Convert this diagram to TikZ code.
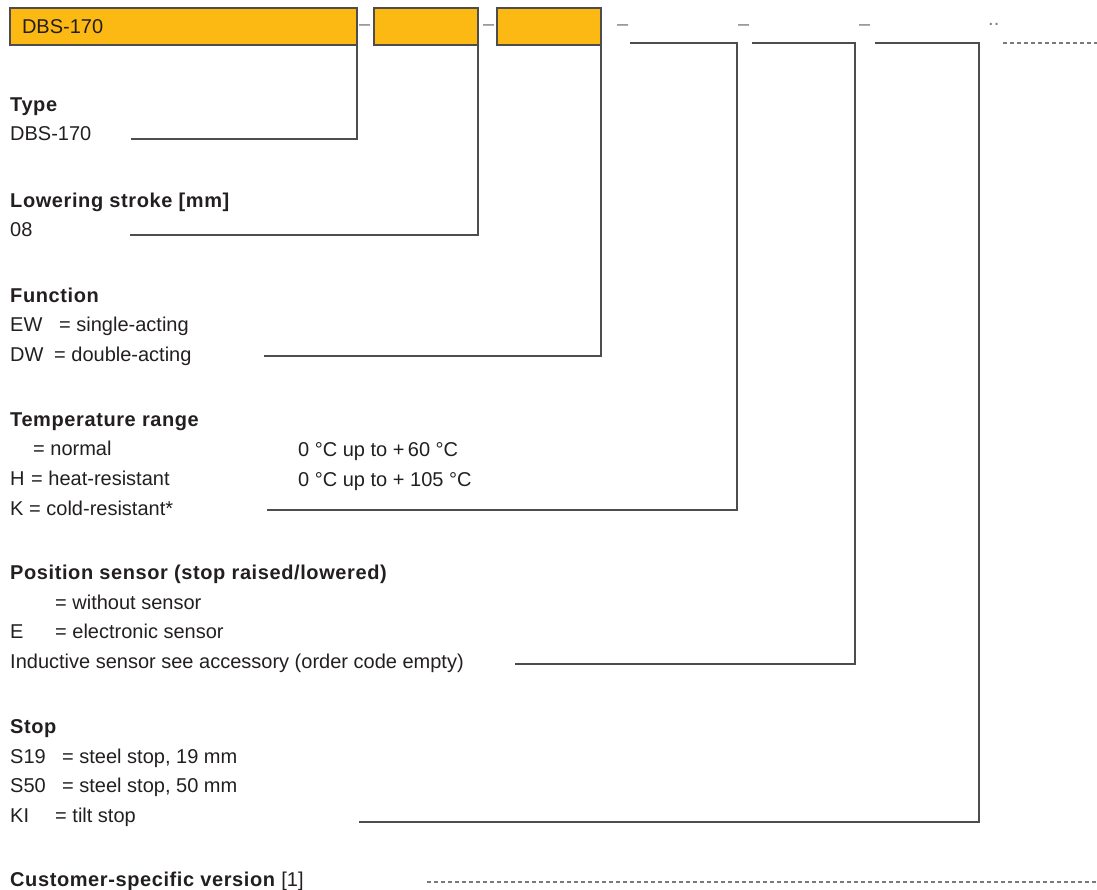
\documentclass[tikz,border=0pt]{standalone}
\usepackage{fontspec}
\setmainfont{Liberation Sans}[BoldFeatures={LetterSpace=3}]
\usetikzlibrary{positioning}
\definecolor{codeorange}{HTML}{FDB913}
\definecolor{linegray}{HTML}{4D4D4D}
\definecolor{dashgray}{HTML}{7A7A7A}
\definecolor{txtblack}{HTML}{231F20}
\begin{document}
\begin{tikzpicture}[x=1pt, y=-1pt,
    codebox/.style={draw=linegray, fill=codeorange, line width=1.2pt, minimum height=37pt,
        inner ysep=0pt, outer sep=0pt, anchor=north west, text=txtblack,
        font=\fontsize{20}{24}\selectfont},
    grouptext/.style={anchor=base west, inner sep=0pt, align=left, text=txtblack,
        font=\fontsize{20}{29.6}\selectfont},
    sepmark/.style={anchor=base west, inner sep=0pt, text=dashgray,
        font=\fontsize{20}{24}\selectfont},
    leader/.style={draw=linegray, line width=1.2pt},
    blank/.style={draw=dashgray, line width=1.1pt, dash pattern=on 4pt off 3pt}]
    % PARAMETRI
    \def\ybar{43} % quota della linea dei campi vuoti

    \useasboundingbox (0,0) rectangle (1097,890);

    % 1. CODICE (Order code)
    \node[codebox, text width=323pt, inner xsep=12pt, align=left] (typebox) at (10,8) {DBS-170};
    \node[codebox, minimum width=104pt] (strokebox) at (374,8) {};
    \node[codebox, minimum width=104pt] (funcbox) at (497,8) {};
    \node[sepmark] (sep1) at (359,30.5) {–};
    \node[sepmark] (sep2) at (483,30.5) {–};
    \node[sepmark] (sep3) at (617,30.5) {–};
    \node[sepmark] (sep4) at (738,30.5) {–};
    \node[sepmark] (sep5) at (859,30.5) {–};
    \node[sepmark] (sep6) at (988,26) {..};

    % campi vuoti
    \coordinate (tempfield) at (630,\ybar);
    \coordinate (tempcorner) at (737,\ybar);
    \coordinate (sensorfield) at (752,\ybar);
    \coordinate (sensorcorner) at (855,\ybar);
    \coordinate (stopfield) at (875,\ybar);
    \coordinate (stopcorner) at (979,\ybar);
    \coordinate (customfield) at (1003,\ybar);
    \coordinate (customright) at (1097,\ybar);

    % 2. TIPO (base = ultima riga)
    \node[grouptext] (typetxt) at (10,141) {\textbf{Type}\\DBS-170};
    \coordinate (typeend) at (131,139);
    \draw[leader] (typebox.south east) |- (typeend);

    % 3. CORSA
    \node[grouptext] (stroketxt) at (10,236.7) {\textbf{Lowering stroke [mm]}\\08};
    \coordinate (strokeend) at (130,235);
    \draw[leader] (strokebox.south east) |- (strokeend);

    % 4. FUNZIONE
    \node[grouptext] (functxt) at (10,361.5) {\textbf{Function}\\
        \makebox[49pt][l]{EW}= single-acting\\
        \makebox[44pt][l]{DW}= double-acting};
    \coordinate (funcend) at (264,356);
    \draw[leader] (funcbox.south east) |- (funcend);

    % 5. TEMPERATURA
    \node[grouptext] (temptxt) at (10,515) {\textbf{Temperature range}\\
        \makebox[23pt][l]{}= normal\\
        \makebox[21pt][l]{H}= heat-resistant\\
        \makebox[19pt][l]{K}= cold-resistant*};
    \node[grouptext] (temprange) at (298,486) {0 °C up to +\,60 °C\\0 °C up to + 105 °C};
    \coordinate (tempend) at (267,510);
    \draw[leader] (tempfield) -- (tempcorner) |- (tempend);

    % 6. SENSORE
    \node[grouptext] (sensortxt) at (10,668.5) {\textbf{Position sensor (stop raised/lowered)}\\
        \makebox[45pt][l]{}= without sensor\\
        \makebox[45pt][l]{E}= electronic sensor\\
        Inductive sensor see accessory (order code empty)};
    \coordinate (sensorend) at (515,664);
    \draw[leader] (sensorfield) -- (sensorcorner) |- (sensorend);

    % 7. ARRESTO
    \node[grouptext] (stoptxt) at (10,822.5) {\textbf{Stop}\\
        \makebox[52pt][l]{S19}= steel stop, 19 mm\\
        \makebox[52pt][l]{S50}= steel stop, 50 mm\\
        \makebox[45pt][l]{KI}= tilt stop};
    \coordinate (stopend) at (359,822);
    \draw[leader] (stopfield) -- (stopcorner) |- (stopend);

    % 8. VERSIONE CLIENTE
    \node[grouptext] (customtxt) at (10,886.7) {\textbf{Customer-specific version} [1]};
    \coordinate (customend) at (427,882);
    \draw[blank] (customfield) -- (customright);
    \draw[blank] (customend) -- (customend -| customright);

\end{tikzpicture}
\end{document}
